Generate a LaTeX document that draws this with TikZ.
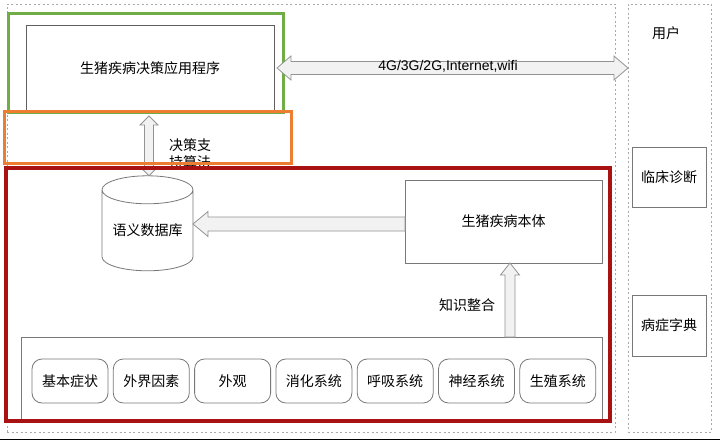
\documentclass[tikz,border=0pt]{standalone}
\usepackage{fontspec}
\setmainfont{Noto Sans CJK SC}
\newfontfamily\latinFont{Liberation Sans}
\usetikzlibrary{positioning,calc,shapes.geometric}
\tikzstyle{sheet} = [x = 1pt, y = -1pt]
\definecolor{appGreen}{RGB}{112,173,71}
\definecolor{algoOrange}{RGB}{237,125,49}
\definecolor{kbRed}{RGB}{168,18,18}
\definecolor{lineGray}{RGB}{120,120,120}
\definecolor{dashGray}{RGB}{170,170,170}
\definecolor{arrowFill}{RGB}{242,242,242}
\tikzstyle{frameStyle} = [draw=dashGray, dash pattern=on 2pt off 2.5pt, line width=.8pt, inner sep=0pt, outer sep=0pt]
\tikzstyle{boxStyle} = [draw=lineGray, fill=white, line width=.8pt, inner sep=0pt, outer sep=0pt, font=\fontsize{14}{17}\selectfont]
\tikzstyle{partStyle} = [boxStyle, rounded corners=10pt, minimum width=76pt, minimum height=44pt]
\tikzstyle{regionStyle} = [line width=3.5pt]
\tikzstyle{blockArrowStyle} = [draw=lineGray!80, fill=arrowFill, line width=.8pt, line join=miter]
\tikzstyle{labelText} = [font=\fontsize{14}{17}\selectfont, inner sep=0pt]
\newcommand{\blockArrow}[5]{
  \coordinate (headBase) at ($(#2)!#5!(#1)$);
  \filldraw [blockArrowStyle] ($(#1)!#3!90:(#2)$) -- ($(headBase)!#3!90:(#2)$) -- ($(headBase)!#4!90:(#2)$) -- (#2)
    -- ($(headBase)!#4!-90:(#2)$) -- ($(headBase)!#3!-90:(#2)$) -- ($(#1)!#3!-90:(#2)$) -- cycle;
}
\newcommand{\doubleBlockArrow}[5]{
  \coordinate (headA) at ($(#1)!#5!(#2)$);
  \coordinate (headB) at ($(#2)!#5!(#1)$);
  \filldraw [blockArrowStyle] (#1) -- ($(headA)!#4!90:(#2)$) -- ($(headA)!#3!90:(#2)$) -- ($(headB)!#3!90:(#2)$)
    -- ($(headB)!#4!90:(#2)$) -- (#2) -- ($(headB)!#4!-90:(#2)$) -- ($(headB)!#3!-90:(#2)$)
    -- ($(headA)!#3!-90:(#2)$) -- ($(headA)!#4!-90:(#2)$) -- cycle;
}

\begin{document}
\begin{tikzpicture}[sheet]
  \useasboundingbox (0,0) rectangle (720,441);
  \fill [white] (0,0) rectangle (720,441);
  \draw [line width=1.2pt] (0,439.6) -- (720,439.6);

  % frames
  \node [frameStyle, minimum width=608pt, minimum height=428pt] (systemFrame) at (311,218) {};
  \node [frameStyle, minimum width=83pt, minimum height=428pt] (userFrame) at (669.5,218) {};
  \node [labelText] (user) at (666,33) {用户};
  \node [boxStyle, minimum width=74pt, minimum height=60pt] (clinic) at (669,177) {临床诊断};
  \node [boxStyle, minimum width=74pt, minimum height=61pt] (dict) at (669,325.5) {病症字典};

  % application
  \node [boxStyle, draw=lineGray!80!black, minimum width=248pt, minimum height=86pt] (app) at (150,68) {生猪疾病决策应用程序};
  \draw [regionStyle, appGreen] (8.5,13.5) rectangle (283.5,112);

  \coordinate (netStart) at ($(app.east)+(3,0)$);
  \coordinate (netEnd) at (app.east -| userFrame.west);
  \doubleBlockArrow{netStart}{netEnd}{6.5pt}{12pt}{14pt}
  \node [inner sep=0pt, font=\latinFont\fontsize{14}{16}\selectfont] (net) at (448,66) {4G/3G/2G,Internet,wifi};

  % knowledge base
  \node [boxStyle, minimum width=197pt, minimum height=83pt] (onto) at (503.5,221.5) {生猪疾病本体};
  \node [boxStyle, cylinder, shape border rotate=90, aspect=0.4, minimum width=91pt, minimum height=95pt] (db) at (147.5,230.5) {语义数据库};
  \node [boxStyle, minimum width=581pt, minimum height=82pt] (parts) at (311.5,378) {};

  \node [partStyle] (part1) at (70,381) {基本症状};
  \foreach \name [count=\i from 2] in {外界因素,外观,消化系统,呼吸系统,神经系统,生殖系统} {
    \pgfmathtruncatemacro{\prev}{\i - 1}
    \node [partStyle, right = 5.3pt of part\prev] (part\i) {\name};
  }

  \coordinate (algoTop) at ($(app.south)+(-1,5)$);
  \coordinate (algoBottom) at (algoTop |- db.north);
  \doubleBlockArrow{algoTop}{algoBottom}{4.5pt}{9pt}{9pt}

  \coordinate (ontoStart) at ($(onto.west)+(0,2.5)$);
  \coordinate (ontoTip) at (ontoStart -| db.east);
  \blockArrow{ontoStart}{ontoTip}{7pt}{12.5pt}{15pt}

  \coordinate (knowTip) at ($(onto.south)+(6.5,0)$);
  \coordinate (knowBase) at (knowTip |- parts.north);
  \blockArrow{knowBase}{knowTip}{5pt}{9.5pt}{12pt}
  \node [labelText] (know) at (467,305) {知识整合};

  % algorithm band
  \begin{scope}
    \clip (150,125) rectangle (250,165);
    \node [labelText, align=left] (algo) at (190,153.5) {决策支\\持算法};
  \end{scope}
  \draw [regionStyle, algoOrange] (4.5,111.5) rectangle (291.5,163.5);
  \draw [regionStyle, line width=4pt, kbRed] (6,168) rectangle (610,421);
\end{tikzpicture}
\end{document}
